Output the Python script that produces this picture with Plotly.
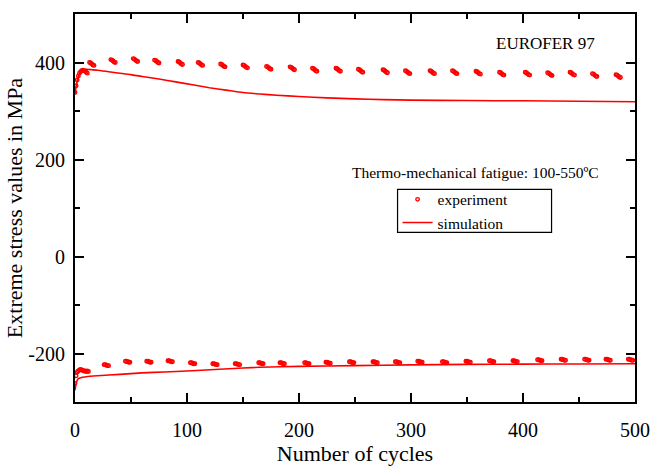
import plotly.graph_objects as go

# ---------------- data ----------------
# experiment, upper extreme stresses (MPa)
exp_upper_cycles = [0, 1, 2, 3, 4, 5, 6, 7, 8, 9, 10, 11,
                    13, 14, 15, 16, 17,
                    32, 33, 34, 35, 36,
                    52, 53, 54, 55, 56,
                    71, 72, 73, 74, 75,
                    92, 93, 94, 95, 96,
                    110, 111, 112, 113, 114,
                    130, 131, 132, 133, 134,
                    150, 151, 152, 153, 154,
                    171, 172, 173, 174, 175,
                    192, 193, 194, 195, 196,
                    212, 213, 214, 215, 216,
                    233, 234, 235, 236, 237,
                    253, 254, 255, 256, 257,
                    275, 276, 277, 278, 279,
                    295, 296, 297, 298, 299,
                    317, 318, 319, 320, 321,
                    337, 338, 339, 340, 341,
                    358, 359, 360, 361, 362,
                    379, 380, 381, 382, 383,
                    402, 403, 404, 405, 406,
                    422, 423, 424, 425, 426,
                    442, 443, 444, 445, 446,
                    462, 463, 464, 465, 466,
                    483, 484, 485, 486, 487]
exp_upper_stress = [338, 352, 364, 372, 378, 381, 383, 384, 383, 382, 380, 378,
                     400, 399, 397, 395, 394,
                     406, 405, 403, 401, 400,
                     408, 407, 405, 403, 402,
                     405, 404, 402, 400, 399,
                     402, 401, 399, 397, 396,
                     400, 399, 397, 395, 394,
                     397, 396, 394, 392, 391,
                     395, 394, 392, 390, 389,
                     392, 391, 389, 387, 386,
                     391, 390, 388, 386, 385,
                     388, 387, 385, 383, 382,
                     388, 387, 385, 383, 382,
                     386, 385, 383, 381, 380,
                     385, 384, 382, 380, 379,
                     383, 382, 380, 378, 377,
                     383, 382, 380, 378, 377,
                     383, 382, 380, 378, 377,
                     382, 381, 379, 377, 376,
                     380, 379, 377, 375, 374,
                     380, 379, 377, 375, 374,
                     379, 378, 376, 374, 373,
                     380, 379, 377, 375, 374,
                     377, 376, 374, 372, 371,
                     375, 374, 372, 370, 369]

# experiment, lower extreme stresses (MPa)
exp_lower_cycles = [0, 1, 2, 3, 4, 5, 6, 7, 8, 9, 10, 11, 12,
                    26, 27, 28, 29, 30,
                    45, 46, 47, 48, 49,
                    64, 65, 66, 67, 68,
                    83, 84, 85, 86, 87,
                    103, 104, 105, 106, 107,
                    123, 124, 125, 126, 127,
                    143, 144, 145, 146, 147,
                    164, 165, 166, 167, 168,
                    183, 184, 185, 186, 187,
                    205, 206, 207, 208, 209,
                    224, 225, 226, 227, 228,
                    245, 246, 247, 248, 249,
                    266, 267, 268, 269, 270,
                    286, 287, 288, 289, 290,
                    306, 307, 308, 309, 310,
                    328, 329, 330, 331, 332,
                    349, 350, 351, 352, 353,
                    370, 371, 372, 373, 374,
                    391, 392, 393, 394, 395,
                    413, 414, 415, 416, 417,
                    434, 435, 436, 437, 438,
                    455, 456, 457, 458, 459,
                    474, 475, 476, 477, 478,
                    494, 495, 496, 497, 498]
exp_lower_stress = [-262, -246, -238, -236, -234, -233, -234, -235, -236, -236, -237, -236, -237,
                     -223, -223, -224, -225, -225,
                     -216, -216, -217, -218, -218,
                     -216, -216, -217, -218, -218,
                     -215, -215, -216, -217, -217,
                     -219, -219, -220, -221, -221,
                     -221, -221, -222, -223, -223,
                     -221, -221, -222, -223, -223,
                     -219, -219, -220, -221, -221,
                     -219, -219, -220, -221, -221,
                     -219, -219, -220, -221, -221,
                     -218, -218, -219, -220, -220,
                     -217, -217, -218, -219, -219,
                     -217, -217, -218, -219, -219,
                     -217, -217, -218, -219, -219,
                     -216, -216, -217, -218, -218,
                     -217, -217, -218, -219, -219,
                     -216, -216, -217, -218, -218,
                     -215, -215, -216, -217, -217,
                     -215, -215, -216, -217, -217,
                     -213, -213, -214, -215, -215,
                     -212, -212, -213, -214, -214,
                     -212, -212, -213, -214, -214,
                     -212, -212, -213, -214, -214,
                     -212, -212, -213, -214, -214]

# simulation curves (MPa)
sim_upper_cycles = [0, 1, 2, 3, 4, 5, 6, 8, 10, 15, 20, 30, 40, 50, 60, 75, 90, 105,
                    120, 135, 150, 165, 180, 200, 225, 250, 275, 300, 350, 400, 450, 500]
sim_upper_stress = [336, 350, 362, 371, 377, 381, 384, 386, 386, 385, 384, 381, 378, 375,
                    371, 366, 360, 354, 348, 343, 338, 335, 332.5, 330, 327, 325, 323.5,
                    322.5, 321.5, 321, 320, 319]
sim_lower_cycles = [0, 1, 2, 3, 5, 10, 20, 40, 60, 80, 100, 125, 150, 165, 200, 250,
                    300, 350, 400, 450, 500]
sim_lower_stress = [-276, -262, -255, -252, -250, -248, -246, -243, -240, -238, -236,
                    -233, -230, -228.5, -226.5, -225, -223.5, -222.5, -222, -221.5, -221]

x_tick_vals = [0, 100, 200, 300, 400, 500]
y_tick_vals = [-200, 0, 200, 400]
y_tick_text = ["-200", "0", "200", "400"]

RED = "#ff0000"
FONT = "Liberation Serif"

fig = go.Figure()

marker_style = dict(symbol="circle-open", size=3.5, color=RED, line=dict(color=RED, width=1.4))

fig.add_trace(go.Scatter(x=exp_upper_cycles, y=exp_upper_stress, mode="markers",
                         marker=marker_style, name="experiment"))
fig.add_trace(go.Scatter(x=exp_lower_cycles, y=exp_lower_stress, mode="markers",
                         marker=marker_style, name="experiment", showlegend=False))
fig.add_trace(go.Scatter(x=sim_upper_cycles, y=sim_upper_stress, mode="lines",
                         line=dict(color=RED, width=1.6, shape="spline", smoothing=0.6),
                         name="simulation"))
fig.add_trace(go.Scatter(x=sim_lower_cycles, y=sim_lower_stress, mode="lines",
                         line=dict(color=RED, width=1.6, shape="spline", smoothing=0.6),
                         name="simulation", showlegend=False))

axis_common = dict(
    showline=True, linecolor="black", linewidth=2, mirror="allticks",
    ticks="inside", ticklen=9, tickwidth=1.5, tickcolor="black",
    showgrid=False, zeroline=False, automargin=False,
    tickfont=dict(family=FONT, size=20, color="black"),
)

fig.update_xaxes(
    range=[0, 500], tickvals=x_tick_vals,
    minor=dict(ticks="inside", ticklen=5, tickwidth=1.5, tickcolor="black", dtick=50, tick0=0, showgrid=False),
    title=dict(text="Number of cycles", font=dict(family=FONT, size=22, color="black"), standoff=4),
    ticklabelstandoff=9,
    **axis_common,
)
fig.update_yaxes(
    range=[-300, 500], tickvals=y_tick_vals, ticktext=y_tick_text,
    minor=dict(ticks="inside", ticklen=5, tickwidth=1.5, tickcolor="black", dtick=100, tick0=0, showgrid=False),
    title=dict(text="Extreme stress values in MPa", font=dict(family=FONT, size=22, color="black"), standoff=0),
    ticklabelstandoff=4,
    **axis_common,
)

fig.add_annotation(text="EUROFER 97", xref="paper", yref="paper", x=0.841, y=0.923,
                   xanchor="center", yanchor="middle",
                   showarrow=False, font=dict(family=FONT, size=17, color="black"))
fig.add_annotation(text="Thermo-mechanical fatigue: 100-550ºC", xref="paper", yref="paper",
                   x=0.715, y=0.591, xanchor="center", yanchor="middle", showarrow=False,
                   font=dict(family=FONT, size=15.5, color="black"))

# legend frame
fig.add_shape(type="rect", xref="paper", yref="paper", x0=0.576, x1=0.851, y0=0.437, y1=0.548,
              line=dict(color="black", width=1.2), fillcolor="rgba(0,0,0,0)")

fig.update_layout(
    width=651, height=467,
    margin=dict(l=75, r=16, t=14, b=65),
    paper_bgcolor="white", plot_bgcolor="white",
    showlegend=True,
    legend=dict(x=0.576, y=0.565, xanchor="left", yanchor="top",
                bgcolor="rgba(0,0,0,0)", borderwidth=0, itemwidth=30,
                font=dict(family=FONT, size=15.5, color="black")),
)

fig.write_html("out.html", config={"displayModeBar": False},
               post_script="document.body.style.margin='0';document.body.style.overflow='hidden';")
